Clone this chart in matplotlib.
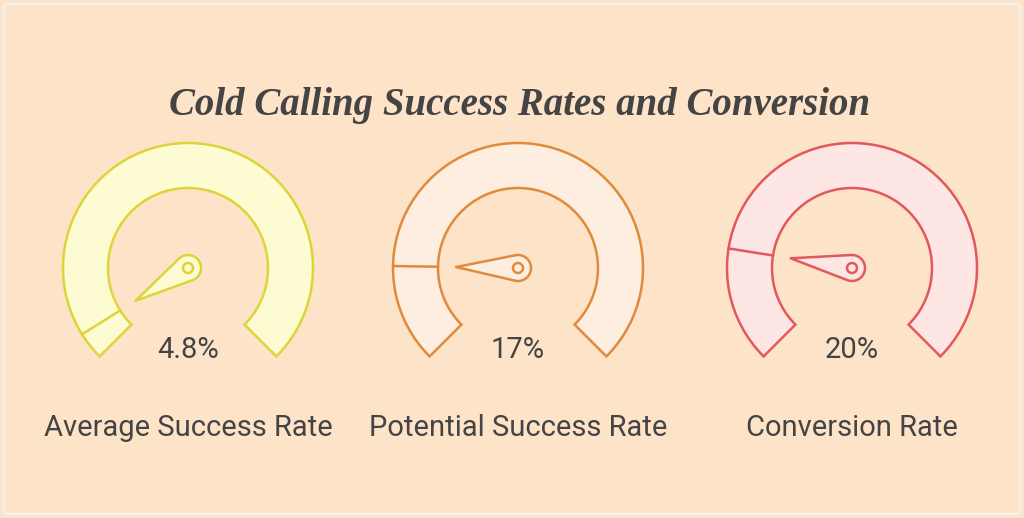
import matplotlib.pyplot as plt
from matplotlib.patches import Wedge, Circle, Polygon, FancyBboxPatch
import numpy as np

plt.rcParams['font.family'] = ['Roboto', 'DejaVu Sans']

title = "Cold Calling Success Rates and Conversion"
labels = ["Average Success Rate", "Potential Success Rate", "Conversion Rate"]
values = [4.8, 17, 20]
value_text = ["4.8%", "17%", "20%"]
edge_colors = ["#dcd53a", "#e08a3e", "#e2585c"]
fill_colors = ["#fdfbd2", "#fdeee0", "#fde6e4"]
centers_x = [188, 518, 852]

fig = plt.figure(figsize=(10.24, 5.18), dpi=100)
fig.patch.set_facecolor("#fde3c8")
ax = fig.add_axes([0, 0, 1, 1])
ax.set_xlim(0, 1024)
ax.set_ylim(0, 518)
ax.axis("off")
ax.add_patch(FancyBboxPatch((4, 4), 1016, 510, boxstyle="round,pad=0,rounding_size=4",
                            fc="none", ec="#f3f0ec", lw=2))

ax.text(520, 412, title, ha="center", va="center", fontsize=28, color="#444444",
        family="Liberation Serif", style="italic", weight="bold")

cy = 250
r_out, r_in = 125, 80
for cx, v, vt, lab, ec, fc in zip(centers_x, values, value_text, labels, edge_colors, fill_colors):
    ax.add_patch(Wedge((cx, cy), r_out, -45, 225, width=r_out - r_in, fc=fc, ec=ec, lw=1.8))
    ang = np.deg2rad(225 - v / 100 * 270)
    ax.plot([cx + r_in * np.cos(ang), cx + r_out * np.cos(ang)],
            [cy + r_in * np.sin(ang), cy + r_out * np.sin(ang)], color=ec, lw=1.8)
    # needle: pivot circle with tangent lines to the tip
    L, R = 62, 13
    tip = (cx + L * np.cos(ang), cy + L * np.sin(ang))
    off = np.arccos(R / L)
    arc = np.linspace(ang + off, ang + 2 * np.pi - off, 40)
    pts = [tip] + [(cx + R * np.cos(a), cy + R * np.sin(a)) for a in arc]
    ax.add_patch(Polygon(pts, closed=True, fc=fc, ec=ec, lw=1.8, joinstyle="round"))
    ax.add_patch(Circle((cx, cy), 5, fc=fc, ec=ec, lw=1.8))
    ax.text(cx, 168, vt, ha="center", va="center", fontsize=21, color="#444444")
    ax.text(cx, 90, lab, ha="center", va="center", fontsize=21, color="#444444")

fig.savefig("out.png", dpi=100, facecolor=fig.get_facecolor())
